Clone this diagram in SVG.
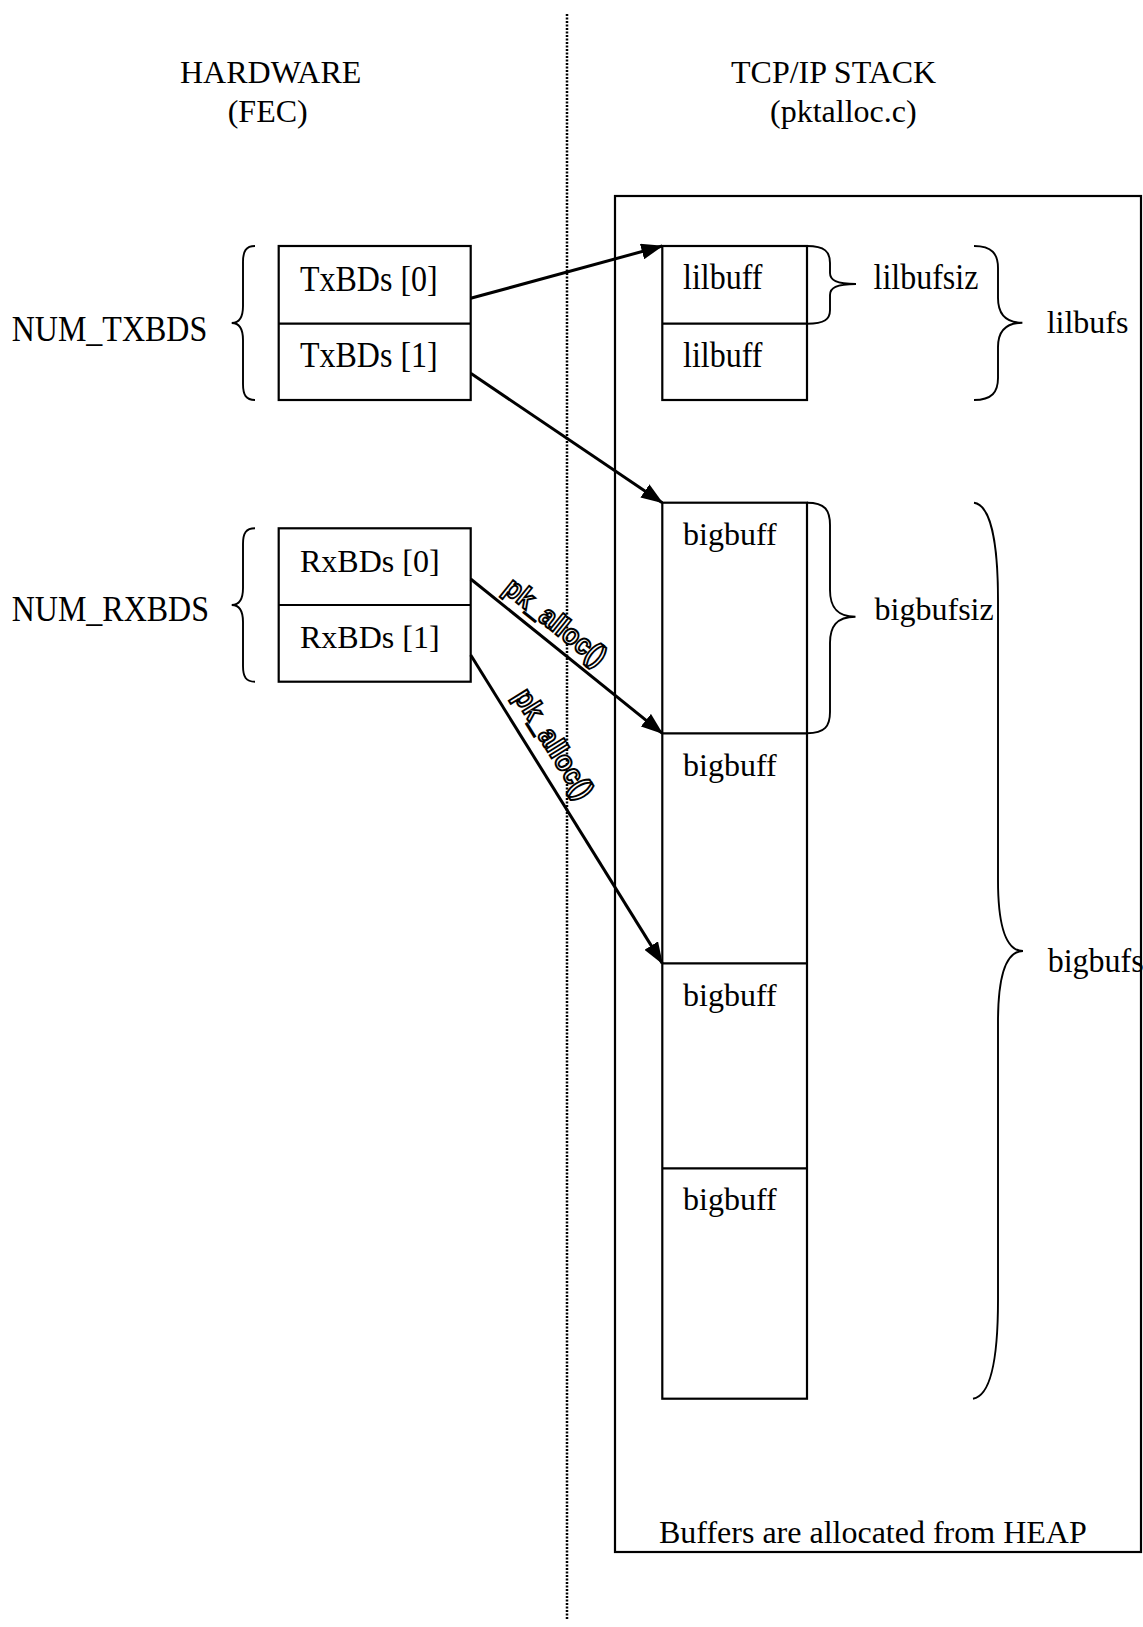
<svg xmlns="http://www.w3.org/2000/svg" width="1143" height="1627" viewBox="0 0 1143 1627">
<style>
  .t { font-family: "Liberation Serif", "Times New Roman", serif; font-size: 32px; fill: #000; }
  .box { fill: none; stroke: #000; stroke-width: 2.2; }
  .brace { fill: none; stroke: #000; stroke-width: 1.9; }
  .arrow { fill: none; stroke: #000; stroke-width: 3; marker-end: url(#ah); }
  .lbl { font-family: "Liberation Sans", Arial, sans-serif; font-size: 29px; font-weight: bold; fill: #fff; stroke: #000; stroke-width: 2; }
</style>
<defs>
  <marker id="ah" markerUnits="userSpaceOnUse" markerWidth="22" markerHeight="16" refX="21" refY="8" orient="auto">
    <path d="M0,0 L22,8 L0,16 z" fill="#000"/>
  </marker>
</defs>
<rect width="1143" height="1627" fill="#fff"/>

<g id="divider">
  <line x1="567" y1="14" x2="567" y2="1620" stroke="#000" stroke-width="2.5" stroke-dasharray="2 1.5"/>
</g>

<g id="titles">
  <text class="t" x="180" y="82.7">HARDWARE</text>
  <text class="t" x="227.7" y="121.7">(FEC)</text>
  <text class="t" x="731" y="82.7">TCP/IP STACK</text>
  <text class="t" x="770" y="121.7">(pktalloc.c)</text>
</g>

<g id="heap">
  <rect class="box" x="615" y="196" width="526" height="1356" stroke-width="2.6"/>
  <text class="t" x="659" y="1543.3">Buffers are allocated from HEAP</text>
</g>

<g id="txbds">
  <path class="brace" d="M255,246 C246,246 243,251 243,262 L243,306 C243,317 239,323 231.7,323 C239,323 243,329 243,340 L243,384 C243,395 246,400 255,400"/>
  <text class="t" transform="translate(11.7 340.7) scale(1 1.1)">NUM_TXBDS</text>
  <rect class="box" x="278.7" y="246" width="192" height="154"/>
  <line class="box" x1="278.7" y1="323.7" x2="470.7" y2="323.7"/>
  <text class="t" transform="translate(300 291) scale(1 1.15)">TxBDs [0]</text>
  <text class="t" transform="translate(300 366.7) scale(1 1.15)">TxBDs [1]</text>
</g>

<g id="rxbds">
  <path class="brace" d="M255,528.3 C246,528.3 243,533 243,544 L243,588 C243,599 239,605 231.7,605 C239,605 243,611 243,622 L243,666 C243,677 246,681.7 255,681.7"/>
  <text class="t" transform="translate(11.7 620.7) scale(1 1.1)">NUM_RXBDS</text>
  <rect class="box" x="278.7" y="528.3" width="192" height="153.4"/>
  <line class="box" x1="278.7" y1="605" x2="470.7" y2="605"/>
  <text class="t" x="300" y="571.7">RxBDs [0]</text>
  <text class="t" x="300" y="648.3">RxBDs [1]</text>
</g>

<g id="lilbufs">
  <rect class="box" x="662.3" y="246" width="144.7" height="154"/>
  <line class="box" x1="662.3" y1="323.7" x2="807" y2="323.7"/>
  <text class="t" transform="translate(683 289.3) scale(1 1.15)">lilbuff</text>
  <text class="t" transform="translate(683 366.7) scale(1 1.15)">lilbuff</text>
  <path class="brace" d="M807,246 C825,246 830,252 830,263 L830,273 C830,280 836,284 856,284 C836,284 830,288 830,295 L830,310 C830,319 825,323.7 807,323.7"/>
  <text class="t" transform="translate(873.5 289) scale(1 1.15)">lilbufsiz</text>
  <path class="brace" d="M974,246 C992,246 998,254 998,268 L998,298 C998,313 1005,322.7 1022.4,322.7 C1005,322.7 998,332 998,347 L998,378 C998,392 992,400 974,400"/>
  <text class="t" x="1046.7" y="333.3">lilbufs</text>
</g>

<g id="bigbufs">
  <rect class="box" x="662.3" y="502.7" width="144.7" height="896"/>
  <line class="box" x1="662.3" y1="733.3" x2="807" y2="733.3"/>
  <line class="box" x1="662.3" y1="963.4" x2="807" y2="963.4"/>
  <line class="box" x1="662.3" y1="1168.3" x2="807" y2="1168.3"/>
  <text class="t" x="683" y="545">bigbuff</text>
  <text class="t" x="683" y="775.9">bigbuff</text>
  <text class="t" x="683" y="1005.8">bigbuff</text>
  <text class="t" x="683" y="1210">bigbuff</text>
  <path class="brace" d="M807,502.7 C825,502.7 830,510 830,525 L830,590 C830,606 836,616.7 855.5,616.7 C836,616.7 830,627 830,643 L830,712 C830,726 825,733.3 807,733.3"/>
  <text class="t" x="874.6" y="620">bigbufsiz</text>
  <path class="brace" d="M974,502.7 C990,505 998,540 998,600 L998,880 C998,925 1005,951 1023,951 C1005,951 998,977 998,1022 L998,1300 C998,1360 990,1396 973,1398.7"/>
  <text class="t" transform="translate(1047.7 972.3) scale(1 1.05)">bigbufs</text>
</g>

<g id="connectors">
  <line class="arrow" x1="470.7" y1="298.3" x2="662.3" y2="246" stroke-width="4"/>
  <line class="arrow" x1="470.7" y1="373.3" x2="662.3" y2="502.7"/>
  <line class="arrow" x1="470.7" y1="579" x2="662.3" y2="733.3"/>
  <line class="arrow" x1="470.7" y1="655" x2="662.3" y2="963.4"/>
  <text class="lbl" transform="translate(502 591) rotate(38.8)" textLength="122" lengthAdjust="spacingAndGlyphs">pk_alloc()</text>
  <text class="lbl" transform="translate(513 696) rotate(58.2)" textLength="124" lengthAdjust="spacingAndGlyphs">pk_alloc()</text>
</g>
</svg>
